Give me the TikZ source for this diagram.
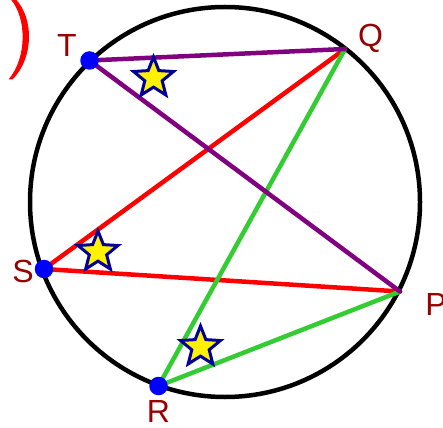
\documentclass[tikz,border=0pt]{standalone}
\usepackage{fontspec}
\setmainfont{Liberation Sans}
\usetikzlibrary{shapes.geometric}
\definecolor{pur}{HTML}{800080}
\definecolor{grn}{HTML}{33CC33}
\definecolor{lbl}{HTML}{990000}
\definecolor{navy}{HTML}{000099}
\tikzset{
  chord/.style={line width=4.5pt, line cap=round},
  dot/.style={circle, fill=blue, inner sep=0pt, minimum size=18.5pt},
  ystar/.style={star, star points=5, star point ratio=2.3, fill=yellow, draw=navy, line width=3pt, inner sep=0pt, minimum size=42pt},
  lab/.style={text=lbl, font=\fontsize{32}{32}\selectfont, inner sep=0pt, anchor=base},
  pt/.style={inner sep=0pt, minimum size=0pt}
}
\begin{document}
\begin{tikzpicture}[x=1pt,y=-1pt]
\useasboundingbox (0,0) rectangle (443,427);
% red arc fragment
\fill[red] (10.5,-1) .. controls (27,18) and (27,58) .. (8.5,79.5) -- (12.5,79.5) .. controls (34,58) and (34,18) .. (15.5,-1) -- cycle;
% circle
\node[pt] (O) at (225,202) {};
\draw[line width=4.5pt] (O.center) circle[radius=195pt];
% points
\coordinate (T) at (89.5,60.5);
\coordinate (Q) at (345,49);
\coordinate (S) at (44,269);
\coordinate (P) at (400,291.5);
\coordinate (R) at (158.5,386);
% chords
\draw[chord, red] (S) -- (Q);
\draw[chord, red] (S) -- (P);
\draw[chord, grn] (Q) -- (R);
\draw[chord, grn] (P) -- (R);
\draw[chord, pur] (T) -- (Q);
\draw[chord, pur] (T) -- (P);
% dots
\node[dot] (dT) at (T) {};
\node[dot] (dS) at (S) {};
\node[dot] (dR) at (R) {};
% stars
\node[ystar] (sT) at (153.5,78) {};
\node[ystar] (sS) at (98,252) {};
\node[ystar] (sR) at (200.5,347) {};
% labels
\node[lab] (lT) at (67,57) {T};
\node[lab] (lQ) at (370.5,46.5) {Q};
\node[lab] (lS) at (23,282.5) {S};
\node[lab] (lP) at (436,315) {P};
\node[lab] (lR) at (158.5,422) {R};
\end{tikzpicture}
\end{document}
